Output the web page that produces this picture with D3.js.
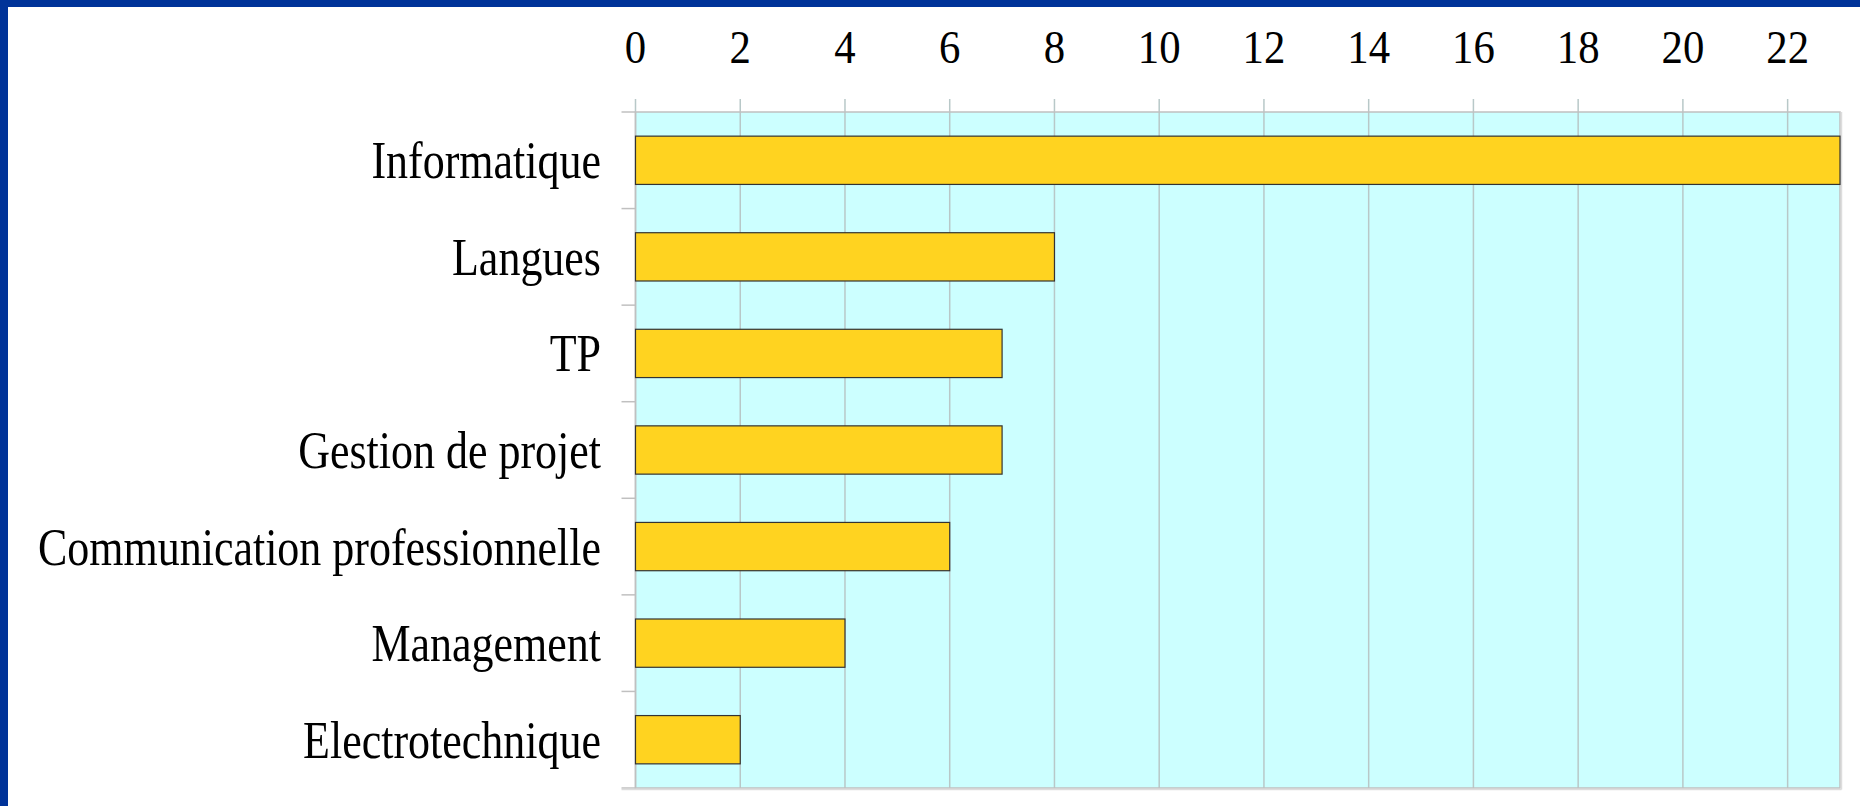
<!DOCTYPE html>
<head>
<meta charset="utf-8">
<title>Formations</title>
<style>
body { margin: 0; background: #fff; }
svg { display: block; }
text { font-family: "Liberation Serif", "Times New Roman", serif; fill: #000; }
</style>
</head>
<body>
<svg width="1860" height="806"></svg>
<script src="https://cdn.jsdelivr.net/npm/d3@7"></script>
<script>
// categories and their values, top to bottom
const categories = ["Informatique", "Langues", "TP", "Gestion de projet",
  "Communication professionnelle", "Management", "Electrotechnique"];
const values = [23, 8, 7, 7, 6, 4, 2];
const tickValues = [0, 2, 4, 6, 8, 10, 12, 14, 16, 18, 20, 22];

const svg = d3.select("svg");
const plotLeft = 635.5, plotRight = 1840, plotTop = 112, plotBottom = 788;

// blue frame on the top and left edges
svg.append("rect").attr("x", 0).attr("y", 0).attr("width", 1860).attr("height", 7).attr("fill", "#003399");
svg.append("rect").attr("x", 0).attr("y", 0).attr("width", 8).attr("height", 806).attr("fill", "#003399");

const x = d3.scaleLinear().domain([0, 23]).range([plotLeft, plotRight]);
const y = d3.scaleBand().domain(categories).range([plotTop, plotBottom])
  .paddingInner(0.5).paddingOuter(0.25);

// plot background
svg.append("rect")
  .attr("x", plotLeft).attr("y", plotTop)
  .attr("width", plotRight - plotLeft).attr("height", plotBottom - plotTop)
  .attr("fill", "#ccffff");

// vertical grid lines plus ticks above the plot
svg.append("g")
  .selectAll("line")
  .data(tickValues)
  .join("line")
    .attr("x1", d => x(d)).attr("x2", d => x(d))
    .attr("y1", plotTop - 13).attr("y2", plotBottom)
    .attr("stroke", "#b8c8c8").attr("stroke-width", 1.5);

// horizontal ticks at band boundaries, left of the plot
const step = y.step();
svg.append("g")
  .selectAll("line")
  .data(d3.range(categories.length + 1))
  .join("line")
    .attr("x1", plotLeft - 14).attr("x2", plotLeft)
    .attr("y1", i => plotTop + i * step).attr("y2", i => plotTop + i * step)
    .attr("stroke", "#c0c0c0").attr("stroke-width", 1.5);

// plot border with a faint shadow
svg.append("rect")
  .attr("x", plotLeft).attr("y", plotTop)
  .attr("width", plotRight - plotLeft).attr("height", plotBottom - plotTop)
  .attr("fill", "none").attr("stroke", "#c0c0c0").attr("stroke-width", 1.5);
svg.append("line")
  .attr("x1", plotLeft - 14).attr("x2", plotRight + 1.5)
  .attr("y1", plotBottom + 1.5).attr("y2", plotBottom + 1.5)
  .attr("stroke", "#dddddd").attr("stroke-width", 1.5);
svg.append("line")
  .attr("x1", plotRight + 1.5).attr("x2", plotRight + 1.5)
  .attr("y1", plotTop).attr("y2", plotBottom + 1.5)
  .attr("stroke", "#dddddd").attr("stroke-width", 1.5);

// bars
svg.append("g")
  .selectAll("rect")
  .data(values)
  .join("rect")
    .attr("x", x(0))
    .attr("y", (d, i) => y(categories[i]))
    .attr("width", d => x(d) - x(0))
    .attr("height", y.bandwidth())
    .attr("fill", "#ffd320")
    .attr("stroke", "#333")
    .attr("stroke-width", 1.2);

// top tick labels
svg.append("g")
  .selectAll("text")
  .data(tickValues)
  .join("text")
    .attr("transform", d => "translate(" + x(d) + ",63) scale(0.93,1)")
    .attr("text-anchor", "middle")
    .style("font-size", "46px")
    .text(d => d);

// category labels
svg.append("g")
  .selectAll("text")
  .data(categories)
  .join("text")
    .attr("transform", d => "translate(601," + (y(d) + y.bandwidth() / 2 + 18) + ") scale(0.83,1)")
    .attr("text-anchor", "end")
    .style("font-size", "53px")
    .text(d => d);
</script>
</body>
